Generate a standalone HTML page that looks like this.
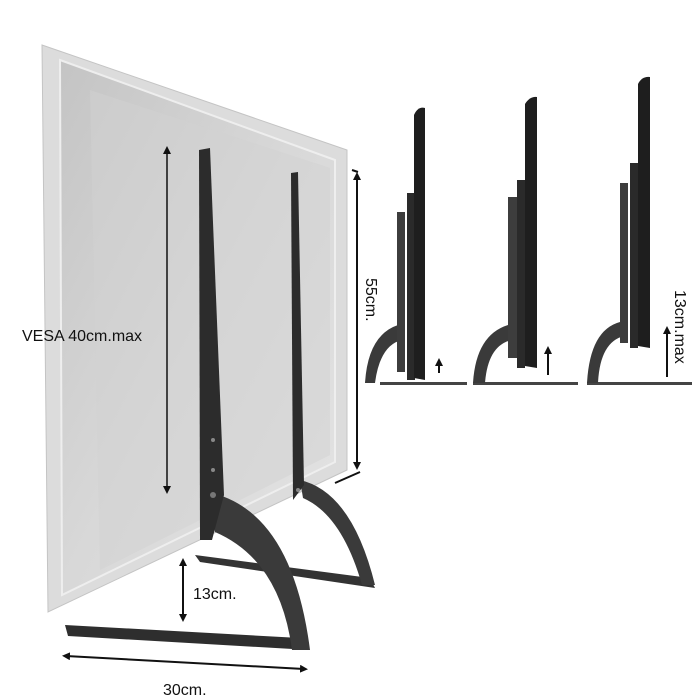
<!DOCTYPE html>
<html><head><meta charset="utf-8"><style>
html,body{margin:0;padding:0;background:#fff;}
svg{display:block;}
text{font-family:"Liberation Sans","DejaVu Sans",sans-serif;fill:#111;}
</style></head><body>
<svg width="700" height="700" viewBox="0 0 700 700" xmlns="http://www.w3.org/2000/svg">
<defs>
<linearGradient id="pg" x1="0" y1="0" x2="1" y2="1">
<stop offset="0" stop-color="#c4c4c4"/><stop offset="0.5" stop-color="#d8d8d8"/><stop offset="1" stop-color="#e4e4e4"/>
</linearGradient>
<marker id="ah" markerWidth="8" markerHeight="8" refX="4" refY="4" orient="auto-start-reverse" markerUnits="userSpaceOnUse"><path d="M0,0 L8,4 L0,8 z" fill="#111"/></marker>
</defs>
<polygon points="42,45 347,150 347,470 48,612" fill="#dcdcdc" stroke="#c4c4c4"/>
<polygon points="60,60 335,160 335,462 62,595" fill="url(#pg)" stroke="#eee" stroke-width="2"/>
<polygon points="90,90 330,168 330,455 100,570" fill="#d2d2d2" opacity="0.5"/>
<!-- right stand -->
<path d="M195,555 L370,578 L375,588 L200,562 Z" fill="#333"/>
<path d="M300,480 Q352,492 375,585 L362,585 Q342,515 303,498 Z" fill="#3a3a3a"/>
<path d="M291,173 L298,172 L304,485 L293,500 Z" fill="#2c2c2c"/>
<circle cx="298" cy="490" r="2" fill="#888"/>
<!-- left stand -->
<path d="M65,625 L300,638 L310,650 L68,636 Z" fill="#2e2e2e"/>
<path d="M208,492 Q292,510 310,650 L292,650 Q280,560 215,532 Z" fill="#3a3a3a"/>
<path d="M199,150 L210,148 L224,495 L212,540 L200,540 Z" fill="#2c2c2c"/>
<circle cx="213" cy="495" r="3" fill="#777"/>
<circle cx="213" cy="440" r="2" fill="#888"/>
<circle cx="213" cy="470" r="2" fill="#888"/>
<line x1="167" y1="150" x2="167" y2="490" stroke="#111" stroke-width="1.5" marker-start="url(#ah)" marker-end="url(#ah)"/>
<text x="22" y="341" font-size="16">VESA 40cm.max</text>
<line x1="357" y1="176" x2="357" y2="466" stroke="#111" stroke-width="2" marker-start="url(#ah)" marker-end="url(#ah)"/>
<line x1="352" y1="170" x2="358" y2="172" stroke="#111" stroke-width="2"/>
<line x1="335" y1="483" x2="360" y2="472" stroke="#111" stroke-width="2"/>
<text x="0" y="0" font-size="16" transform="translate(366,278) rotate(90)">55cm.</text>
<line x1="183" y1="562" x2="183" y2="618" stroke="#111" stroke-width="2" marker-start="url(#ah)" marker-end="url(#ah)"/>
<text x="193" y="599" font-size="16">13cm.</text>
<line x1="66" y1="656" x2="304" y2="669" stroke="#111" stroke-width="2" marker-start="url(#ah)" marker-end="url(#ah)"/>
<text x="163" y="695" font-size="16">30cm.</text>
<g fill="#2a2a2a">
<path d="M380,385 L467,385 L467,382 L380,382Z" fill="#444"/>
<path d="M365,383 Q368,335 398,325 L402,340 Q380,345 375,383Z" fill="#3a3a3a"/>
<rect x="397" y="212" width="8" height="160" fill="#3d3d3d"/>
<rect x="407" y="193" width="8" height="187"/>
<path d="M414,115 Q418,106 425,108 L425,380 L414,378Z" fill="#1e1e1e"/>
<path d="M473,385 L578,385 L578,382 L473,382Z" fill="#444"/>
<path d="M473,383 Q476,335 508,325 L512,340 Q488,345 485,383Z" fill="#3a3a3a"/>
<rect x="508" y="197" width="9" height="161" fill="#3d3d3d"/>
<rect x="517" y="180" width="8" height="188"/>
<path d="M525,104 Q530,96 537,97 L537,368 L525,366Z" fill="#1e1e1e"/>
<path d="M587,385 L692,385 L692,382 L587,382Z" fill="#444"/>
<path d="M587,383 Q590,330 620,322 L624,336 Q600,342 598,383Z" fill="#3a3a3a"/>
<rect x="620" y="183" width="8" height="160" fill="#3d3d3d"/>
<rect x="630" y="163" width="8" height="185"/>
<path d="M638,84 Q642,76 650,77 L650,348 L638,346Z" fill="#1e1e1e"/>
</g>
<line x1="439" y1="373" x2="439" y2="362" stroke="#111" stroke-width="2" marker-end="url(#ah)"/>
<line x1="548" y1="375" x2="548" y2="350" stroke="#111" stroke-width="2" marker-end="url(#ah)"/>
<line x1="667" y1="377" x2="667" y2="330" stroke="#111" stroke-width="2" marker-end="url(#ah)"/>
<text x="0" y="0" font-size="16" transform="translate(675,290) rotate(90)">13cm.max</text>
</svg>
</body></html>
